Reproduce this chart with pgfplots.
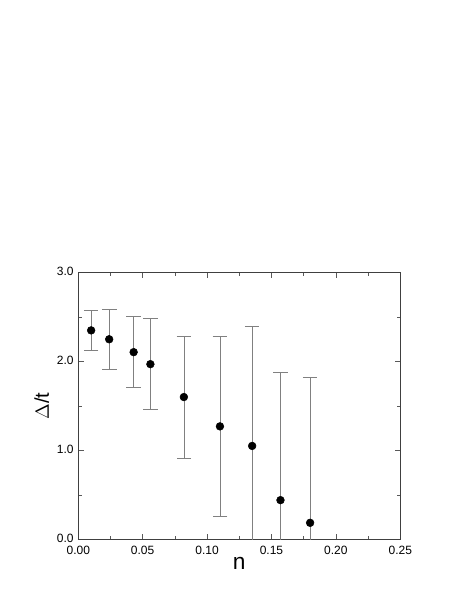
\documentclass[border=0pt]{standalone}
\usepackage{fontspec}
\setmainfont{Liberation Sans}
\usepackage{pgfplots}
\pgfplotsset{compat=1.18}
\begin{document}
\begin{tikzpicture}
\path[use as bounding box] (0,0) rectangle (351.75pt,455.25pt);
\begin{axis}[
  scale only axis,
  width=241.5pt, height=200pt,
  at={(58.7pt,50.8pt)}, anchor=south west,
  xmin=0, xmax=0.25, ymin=0, ymax=3,
  xtick={0,0.05,0.1,0.15,0.2,0.25},
  ytick={0,1,2,3},
  minor x tick num=1, minor y tick num=1,
  tick align=inside,
  major tick length=4pt, minor tick length=2.5pt,
  axis line style={black!75, line width=0.5pt},
  every tick/.style={black!65, line width=0.4pt},
  xticklabel style={yshift=-1.5pt, /pgf/number format/fixed, /pgf/number format/fixed zerofill, /pgf/number format/precision=2},
  yticklabel style={yshift=1pt, /pgf/number format/fixed, /pgf/number format/fixed zerofill, /pgf/number format/precision=1},
  /pgf/number format/assume math mode=true,
  tick label style={font=\fontsize{9}{10}\selectfont},
  xlabel={n}, ylabel={$\Delta$/t},
  xlabel style={font=\fontsize{17}{18}\selectfont, yshift=5pt},
  ylabel style={font=\fontsize{15}{17}\selectfont, yshift=-1pt},
  clip=true,
]
\addplot+[only marks, mark=*, mark size=2.9pt, black, mark options={fill=black},
  error bars/.cd, y dir=both, y explicit,
  error bar style={black!50, line width=0.5pt},
  error mark options={rotate=90, mark size=5.5pt, black!50, line width=0.5pt}]
coordinates {
  (0.010,2.35) +- (0,0.22)
  (0.024,2.25) +- (0,0.34)
  (0.043,2.105) +- (0,0.40)
  (0.056,1.97) +- (0,0.51)
  (0.082,1.60) +- (0,0.685)
  (0.110,1.27) +- (0,1.015)
  (0.135,1.05) +- (0,1.35)
  (0.157,0.44) +- (0,1.435)
  (0.180,0.185) +- (0,1.635)
};
\end{axis}
\end{tikzpicture}
\end{document}
